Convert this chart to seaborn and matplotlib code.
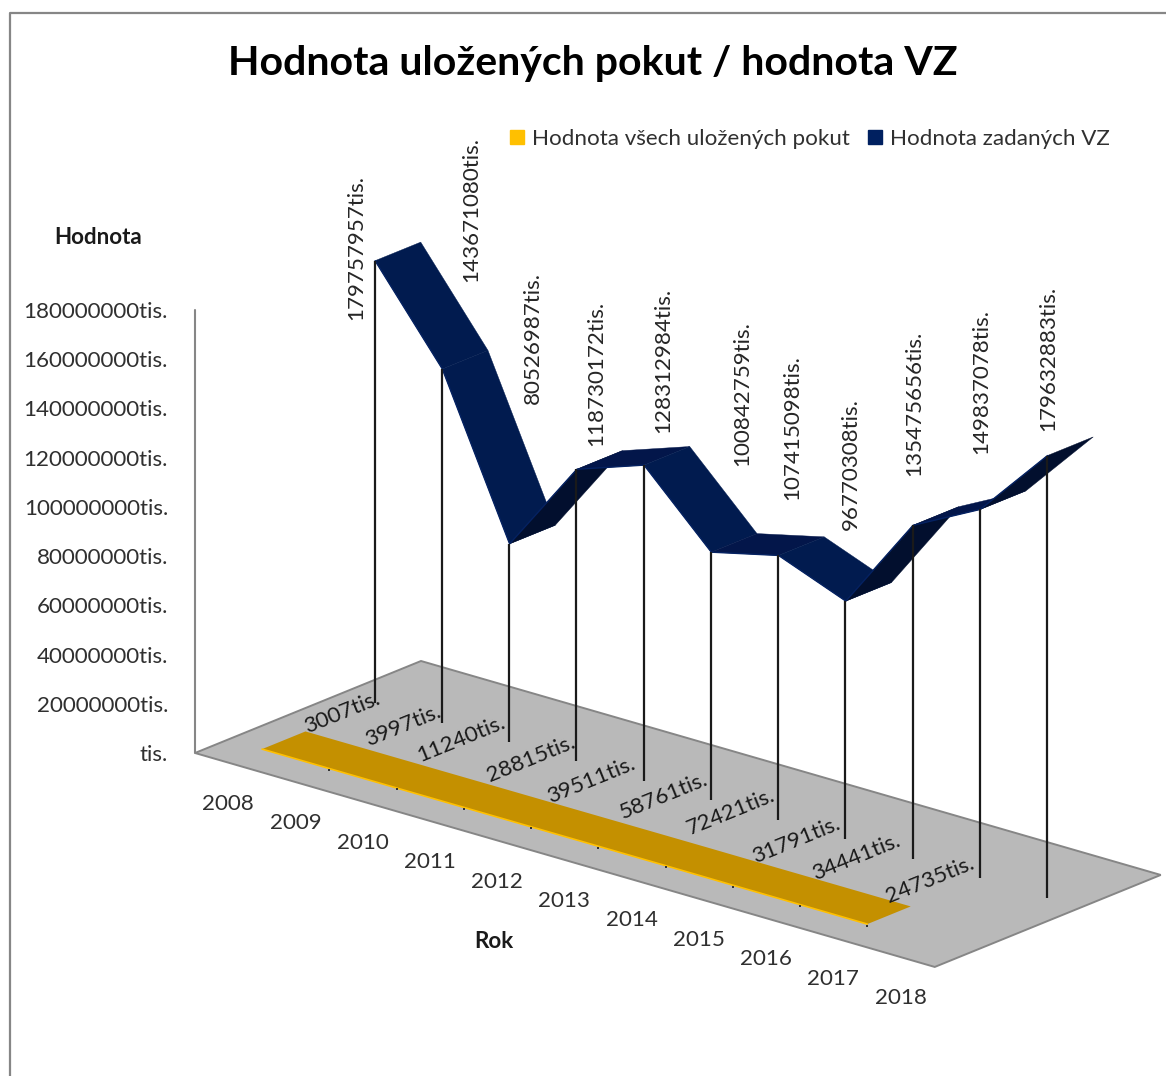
import matplotlib
matplotlib.use("Agg")
import matplotlib.pyplot as plt
from matplotlib.patches import Patch
import numpy as np
import pandas as pd
import seaborn as sns

years = ["2008", "2009", "2010", "2011", "2012", "2013", "2014", "2015", "2016", "2017", "2018"]
vz_values = [179757957, 143671080, 80526987, 118730172, 128312984, 100842759,
             107415098, 96770308, 135475656, 149837078, 179632883]
fine_values = [3007, 3997, 11240, 28815, 39511, 58761, 72421, 31791, 34441, 24735]
value_ticks = [0, 20000000, 40000000, 60000000, 80000000, 100000000,
               120000000, 140000000, 160000000, 180000000]
series_names = ["Hodnota všech uložených pokut", "Hodnota zadaných VZ"]

# where excel put the data labels (centre, in pixels)
vz_label_pos = [(356, 248), (471, 210), (533, 338), (596, 373), (663, 360), (742, 394),
                (792, 428), (851, 464), (914, 403), (981, 382), (1048, 358)]
fine_label_pos = [(343, 712), (404, 725), (461, 739), (531, 759), (592, 780),
                  (664, 796), (731, 812), (797, 840), (857, 857), (930, 880)]

sns.set_theme(style="white")
plt.rcParams["font.family"] = ["Lato", "DejaVu Sans"]
TEXT_SIZE = 16.1

# 3d view of the excel chart, as a projection to pixels
ORIGIN = np.array([195.0, 753.0])
CAT_STEP = np.array([67.25, 19.45])
DEPTH = np.array([226.0, -92.0])
PX_PER_VALUE = 443.0 / 180000000


def project(cat, depth, value):
    cat, value = np.asarray(cat, float), np.asarray(value, float)
    x = ORIGIN[0] + cat * CAT_STEP[0] + depth * DEPTH[0]
    y = ORIGIN[1] + cat * CAT_STEP[1] + depth * DEPTH[1] - value * PX_PER_VALUE
    return x, y


fig = plt.figure(figsize=(11.66, 10.76), dpi=100)
ax = fig.add_axes([0, 0, 1, 1])
ax.set_xlim(0, 1166)
ax.set_ylim(1076, 0)
ax.axis("off")

# chart border
ax.plot([10, 10, 1166], [1076, 13, 13], color="#868686", lw=1.6, zorder=1)

# floor and value axis
n = len(years)
fx, fy = project([0, 0, n, n], 0, [0, 0, 0, 0])
fx = fx + np.array([0, DEPTH[0], DEPTH[0], 0])
fy = fy + np.array([0, DEPTH[1], DEPTH[1], 0])
ax.fill(fx, fy, facecolor="#b9b9b9", edgecolor="#868686", lw=1.4, zorder=1)
ax.plot([ORIGIN[0], ORIGIN[0]], [project(0, 0, value_ticks[-1])[1], ORIGIN[1]],
        color="#868686", lw=1.5, zorder=1)

# gold ribbon
cats = np.arange(len(fine_values)) + 0.5
front_x, front_y = project(cats, 0.148, fine_values)
back_x, back_y = project(cats, 0.34, fine_values)
ax.fill(np.r_[front_x, back_x[::-1]], np.r_[front_y, back_y[::-1]], color="#c49000", lw=0, zorder=2)
sns.lineplot(data=pd.DataFrame({"x": front_x, "y": front_y}), x="x", y="y", sort=False,
             estimator=None, color="#ffc000", lw=1.2, ax=ax, zorder=3)
ax.scatter(front_x[1:], front_y[1:] + 1.5, s=3, marker="s", color="#333333", lw=0, zorder=3)

# blue ribbon, one face per year, lit according to the slope
cats = np.arange(len(vz_values)) + 0.5
front_x, front_y = project(cats, 0.648, vz_values)
back_x, back_y = project(cats, 0.85, vz_values)
for i in range(len(vz_values) - 1):
    delta = vz_values[i + 1] - vz_values[i]
    if delta < 0:
        face = "#011b4f"
    elif delta > 20000000:
        face = "#020f2e"
    else:
        face = "#03164a"
    ax.fill([front_x[i], back_x[i], back_x[i + 1], front_x[i + 1]],
            [front_y[i], back_y[i], back_y[i + 1], front_y[i + 1]],
            color=face, lw=0.3, zorder=4 + i * 0.01)
sns.lineplot(data=pd.DataFrame({"x": front_x, "y": front_y}), x="x", y="y", sort=False,
             estimator=None, color="#052262", lw=1.0, ax=ax, zorder=5)

# drop lines down to the floor
base_x, base_y = project(cats, 0.648, np.zeros(len(cats)))
ax.vlines(front_x - 0.5, front_y, base_y, color="#1a1a1a", lw=1.6, zorder=6)

# labels
for (x, y), v in zip(vz_label_pos, vz_values):
    ax.text(x, y, f"{v}tis.", rotation=90, ha="center", va="center", fontsize=TEXT_SIZE,
            color="#262626", zorder=7)
for (x, y), v in zip(fine_label_pos, fine_values):
    ax.text(x, y, f"{v}tis.", rotation=22, ha="center", va="center", fontsize=TEXT_SIZE,
            color="#1a1a1a", zorder=7, rotation_mode="anchor")

for v in value_ticks:
    label = f"{v}tis." if v else "tis."
    ax.text(168, project(0, 0, v)[1] + 2, label, ha="right", va="center", fontsize=TEXT_SIZE, color="#303030")

lab_x, lab_y = project(cats, 0, np.zeros(len(cats)))
for x, y, yr in zip(lab_x - 0.5, lab_y + 41, years):
    ax.text(x, y, yr, ha="center", va="center", fontsize=TEXT_SIZE, color="#303030")

ax.text(593, 63, "Hodnota uložených pokut / hodnota VZ", ha="center", va="center",
        fontsize=29.5, fontweight="bold", color="black")
ax.text(98, 237, "Hodnota", ha="center", va="center", fontsize=TEXT_SIZE, fontweight="bold", color="#1a1a1a")
ax.text(494, 942, "Rok", ha="center", va="center", fontsize=TEXT_SIZE, fontweight="bold", color="#1a1a1a")

handles = [Patch(color="#ffc000", label=series_names[0]), Patch(color="#002060", label=series_names[1])]
ax.legend(handles=handles, loc="center", bbox_to_anchor=(810, 139), bbox_transform=ax.transData,
          ncol=2, frameon=False, fontsize=TEXT_SIZE, handlelength=0.62, handleheight=0.62,
          handletextpad=0.35, columnspacing=0.8, labelcolor="#303030")

fig.savefig("out.png", dpi=100)
